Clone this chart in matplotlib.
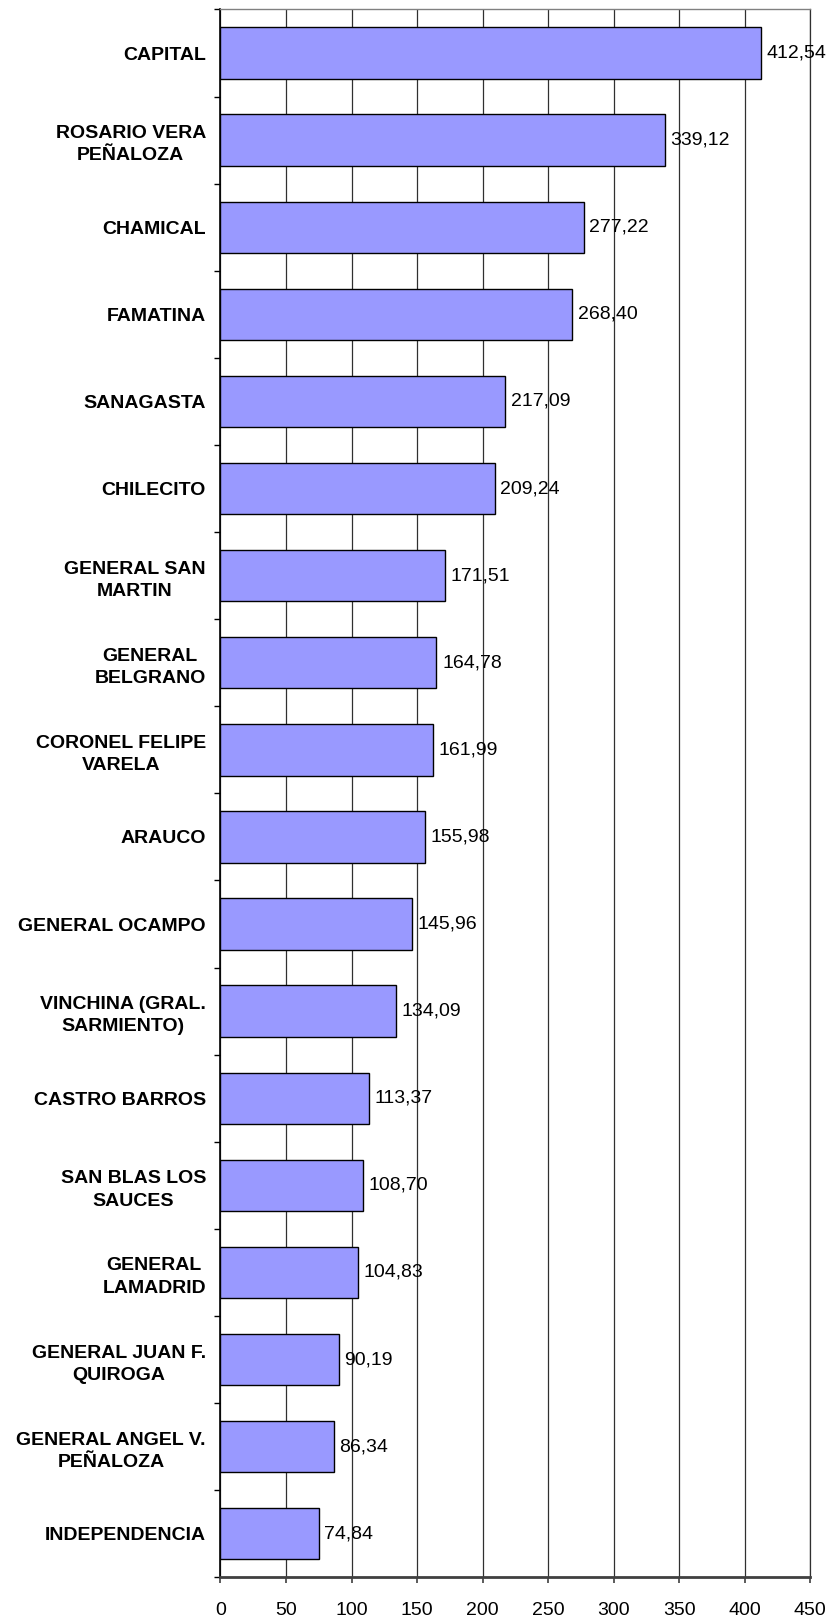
import matplotlib
matplotlib.use("Agg")
import matplotlib.pyplot as plt
import numpy as np

categories = [
    "CAPITAL",
    "ROSARIO VERA\nPEÑALOZA",
    "CHAMICAL",
    "FAMATINA",
    "SANAGASTA",
    "CHILECITO",
    "GENERAL SAN\nMARTIN",
    "GENERAL\nBELGRANO",
    "CORONEL FELIPE\nVARELA",
    "ARAUCO",
    "GENERAL OCAMPO",
    "VINCHINA (GRAL.\nSARMIENTO)",
    "CASTRO BARROS",
    "SAN BLAS LOS\nSAUCES",
    "GENERAL\nLAMADRID",
    "GENERAL JUAN F.\nQUIROGA",
    "GENERAL ANGEL V.\nPEÑALOZA",
    "INDEPENDENCIA",
]
values = [412.54, 339.12, 277.22, 268.40, 217.09, 209.24, 171.51, 164.78,
          161.99, 155.98, 145.96, 134.09, 113.37, 108.70, 104.83, 90.19,
          86.34, 74.84]
x_ticks = [0, 50, 100, 150, 200, 250, 300, 350, 400, 450]

plt.rcParams['font.family'] = ['Liberation Sans', 'DejaVu Sans']

fig = plt.figure(figsize=(8.31, 16.21), dpi=100)
ax = fig.add_axes([0.2653, 0.02696, 0.7098, 0.96718])

n = len(categories)
ypos = np.arange(n)
ax.barh(ypos, values, height=0.59, color='#9999FF', edgecolor='black',
        linewidth=1.0, zorder=3)

ax.set_xlim(0, 450)
ax.set_ylim(n - 0.5, -0.5)

ax.set_xticks(x_ticks)
ax.set_xticklabels([str(t) for t in x_ticks], fontsize=14)
ax.xaxis.grid(True, color='#303030', linewidth=0.9, zorder=0)
ax.set_axisbelow(True)

# category labels at centers, ticks at boundaries
ax.set_yticks(ypos)
ax.set_yticklabels(categories, fontsize=14, fontweight='bold',
                   multialignment='center', linespacing=1.4)
ax.set_yticks(np.arange(n + 1) - 0.5, minor=True)
ax.tick_params(axis='y', which='major', length=0, pad=10.5)
ax.tick_params(axis='y', which='minor', length=4.5, width=1.0, color='black')
ax.tick_params(axis='x', which='major', length=4.5, width=1.2,
               color='#404040', pad=13.5)

for label in ax.get_yticklabels():
    label.set_multialignment('center')
    label.set_linespacing(1.4)

for y, v in zip(ypos, values):
    ax.annotate(f"{v:.2f}".replace('.', ','), xy=(v, y), xytext=(4, 0),
                textcoords='offset points', va='center', ha='left',
                fontsize=14, annotation_clip=False, zorder=4)

ax.spines['left'].set_color('black')
ax.spines['left'].set_linewidth(1.2)
ax.spines['bottom'].set_color('#404040')
ax.spines['bottom'].set_linewidth(2.0)
ax.spines['top'].set_color('#808080')
ax.spines['top'].set_linewidth(1.0)
ax.spines['right'].set_color('#303030')
ax.spines['right'].set_linewidth(0.9)

fig.savefig("out.png", dpi=100)
